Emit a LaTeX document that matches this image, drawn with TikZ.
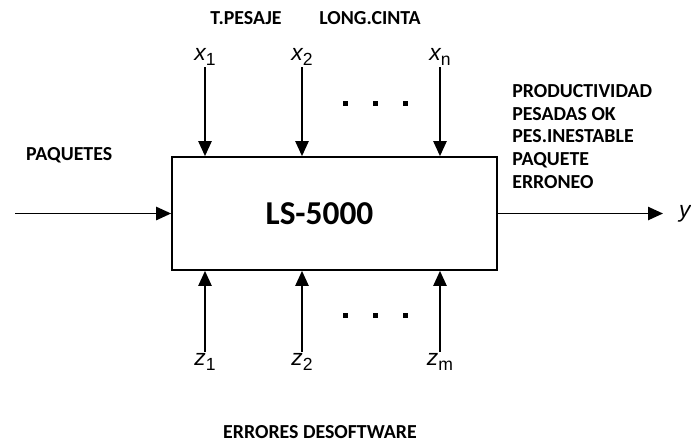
\documentclass[tikz,border=0pt]{standalone}
\usepackage{fontspec}
\setmainfont{Carlito}
\newfontfamily\arialfont{Liberation Sans}
\usetikzlibrary{arrows.meta,calc,positioning}

\newcommand{\sysvar}[2]{{\itshape #1}\raisebox{-0.35ex}{\fontsize{10}{10}\selectfont #2}}

\begin{document}
\begin{tikzpicture}[x=0.02cm,y=-0.02cm,
  lbl/.style={font=\bfseries\fontsize{11.3}{12.9}\selectfont},
  var/.style={font=\arialfont\fontsize{13}{14}\selectfont,inner sep=1pt},
  flow/.style={line width=1pt,-{Triangle[length=8.5pt,width=7.5pt]}}]
\useasboundingbox (0,0) rectangle (691,441);

% System block
\node[draw,line width=1pt,minimum width=6.5cm,minimum height=2.26cm,
  font=\bfseries\fontsize{19}{22}\selectfont] (ls) at (334.5,213.5) {LS-5000\hspace*{0.6cm}};

% Controlled inputs
\foreach \name/\x/\sub in {x1/205/1,x2/302/2,xn/440/n}{
  \node[var] (\name) at (\x,57) {\sysvar{x}{\sub}};
  \draw[flow] (\name.south) -- (\name.south |- ls.north);
}
\foreach \x in {345,375,405}
  \fill (\x-2.5,100.5) rectangle ++(5,5);

% Disturbances
\foreach \name/\x/\sub in {z1/205/1,z2/302/2,zm/440/m}{
  \node[var] (\name) at (\x,362) {\sysvar{z}{\sub}};
  \draw[flow] (\name.north) -- (\name.north |- ls.south);
}
\foreach \x in {345,375,405}
  \fill (\x-2.5,312.5) rectangle ++(5,5);

% Main input and output
\coordinate (in) at (15,213.5);
\draw[flow] (in) -- (ls.west);
\coordinate (out) at (663,213.5);
\draw[flow] (ls.east) -- (out);
\node[var,anchor=west] (y) at (677,214) {\itshape y};

% Labels
\node[lbl] (pesaje) at (246,18) {T.PESAJE};
\node[lbl] (cinta) at (370,18) {LONG.CINTA};
\node[lbl,anchor=west] (paquetes) at (20,155) {PAQUETES};
\node[lbl,anchor=north west,align=left,inner sep=0pt] (salidas) at (512,84)
  {PRODUCTIVIDAD\\PESADAS OK\\PES.INESTABLE\\PAQUETE\\ERRONEO};
\node[lbl] (errores) at (320,432) {ERRORES DESOFTWARE};
\end{tikzpicture}
\end{document}
